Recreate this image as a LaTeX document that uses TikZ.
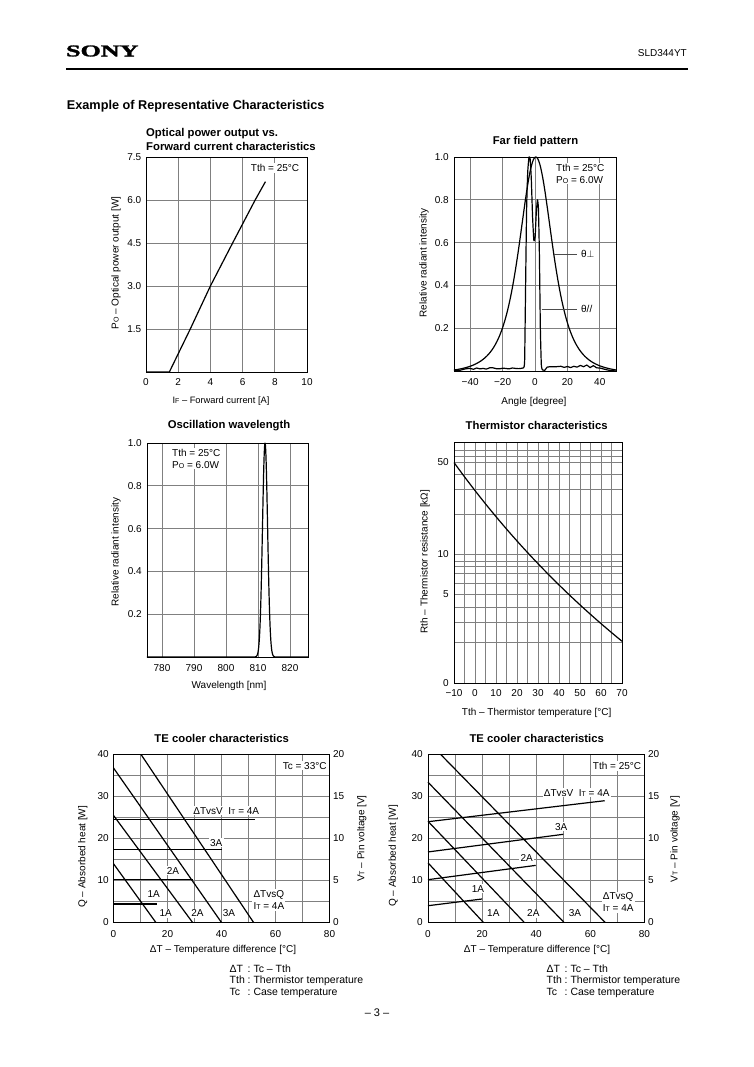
\documentclass[tikz,border=0pt]{standalone}
\usepackage{fontspec}
\setmainfont{Liberation Sans}
\newfontfamily\sonyfont{Liberation Serif}[BoldFeatures={FakeBold=1.6}]
\newcommand\ftick{\fontsize{10}{12}\selectfont}
\newcommand\faxis{\fontsize{10}{12}\selectfont}
\newcommand\fnote{\fontsize{10.5}{12}\selectfont}
\newcommand\ftitle{\fontsize{11.3}{13}\selectfont\bfseries}
\newcommand\subcap[1]{{\fontsize{7}{8}\selectfont #1}}
\begin{document}
\begin{tikzpicture}[x=1pt,y=-1pt,
  gridl/.style={draw=black!50, line width=0.7pt},
  frame/.style={draw=black, line width=0.9pt},
  curve/.style={draw=black, line width=1.2pt, line join=round},
  leader/.style={draw=black!70, line width=0.7pt},
  ticklab/.style={font=\ftick, inner sep=0pt},
  axlab/.style={font=\faxis, inner sep=0pt},
  notelab/.style={font=\fnote, inner sep=0pt, anchor=base west},
  ctitle/.style={font=\ftitle, inner sep=0pt},
  boxlab/.style={font=\fontsize{10}{12}\selectfont, fill=white, inner sep=1.2pt, align=left},
  plainlab/.style={font=\ftick, inner sep=0pt},
]
\useasboundingbox (0,0) rectangle (754,1067);
\fill[white] (0,0) rectangle (754,1067);

% ---------- header ----------
\node[font=\sonyfont\bfseries\fontsize{16.5}{17}\selectfont, xscale=1.58, inner sep=0pt] (logo) at (102.3,51) {SONY};
\node[font=\fontsize{10}{12}\selectfont, anchor=east, inner sep=0pt] (model) at (687,53) {SLD344YT};
\coordinate (rl) at (66,69);
\coordinate (rr) at (687.5,69);
\draw[line width=1.3pt] (rl) -- (rr);
\node[font=\fontsize{12.7}{14}\selectfont\bfseries, anchor=west, inner sep=0pt] (head) at (66.7,106) {Example of Representative Characteristics};

% ---------- Chart A: optical power ----------
\node[ctitle, anchor=west] (tA1) at (146,134) {Optical power output vs.};
\node[ctitle, anchor=west] (tA2) at (146,146.5) {Forward current characteristics};
\begin{scope}[shift={(146,372)}, x=16.1pt, y=28.667pt]
  \foreach \i in {2,4,6,8} \draw[gridl] (\i,0) -- (\i,7.5);
  \foreach \j in {1.5,3,4.5,6} \draw[gridl] (0,\j) -- (10,\j);
  \draw[frame] (0,0) rectangle (10,7.5);
  \draw[curve] (0,0) -- (1.45,0) -- (2.75,1.5) -- (4.0,3.0) -- (5.38,4.5) -- (6.78,6.0) -- (7.42,6.64);
  \foreach \j/\t [count=\k] in {1.5/1.5,3/3.0,4.5/4.5,6/6.0,7.5/7.5}
    \node[ticklab, anchor=east] (Ay\k) at ([xshift=-4.5pt]0,\j) {\t};
  \foreach \i [count=\k] in {0,2,4,6,8,10}
    \node[ticklab, anchor=north] (Ax\k) at ([yshift=-6.5pt]\i,0) {\i};
\end{scope}
\node[axlab, rotate=90] (yA) at (116,263) {P\subcap{O} – Optical power output [W]};
\node[axlab, font=\fontsize{9.3}{11}\selectfont] (xA) at (221,400.7) {I\subcap{F} – Forward current [A]};
\node[boxlab, anchor=east] (lA) at (300.5,168.3) {Tth = 25°C};

% ---------- Chart B: far field ----------
\node[ctitle] (tB) at (535.5,141.7) {Far field pattern};
\begin{scope}[shift={(535,371)}, x=1.62pt, y=214pt]
  \foreach \i in {-40,-20,0,20,40} \draw[gridl] (\i,0) -- (\i,1);
  \foreach \j in {0.2,0.4,0.6,0.8} \draw[gridl] (-50,\j) -- (50,\j);
  \draw[frame] (-50,0) rectangle (50,1);
  \draw[curve] plot[domain=-50:50, samples=201]
    (\x, {(1-(\x/55)*(\x/55)*(\x/55)*(\x/55))/((1+((\x-0.5)/18.7)*((\x-0.5)/18.7))*(1+((\x-0.5)/18.7)*((\x-0.5)/18.7)))});
  \draw[curve] plot[smooth, tension=0.3] coordinates {
    (-50,0) (-46,0.004) (-43,0.01) (-40,0.012) (-38,0.008) (-36,0.014) (-34,0.01) (-32,0.012)
    (-30,0.009) (-28,0.015) (-26,0.015) (-24,0.011) (-22,0.01) (-20,0.013) (-18,0.012) (-16,0.01)
    (-14,0.014) (-12,0.012) (-10,0.011) (-8,0.013) (-7,0.015) (-6.4,0.05) (-5.8,0.4) (-5.2,0.75)
    (-4.5,0.93) (-3.7,1.0) (-3.0,0.99) (-2.3,0.9) (-1.5,0.72) (-0.7,0.61) (0.1,0.63) (0.8,0.74)
    (1.5,0.8) (2.1,0.76) (2.7,0.55) (3.3,0.2) (3.9,0.03) (4.6,0.005) (6,0.003) (7.5,0.018)
    (10,0.02) (13,0.02) (16,0.022) (18,0.017) (20,0.021) (22,0.016) (24,0.022) (26,0.018)
    (28,0.026) (30,0.02) (32,0.028) (34,0.016) (36,0.025) (38,0.015) (40,0.014) (43,0.008)
    (46,0.003) (50,0)};
  \coordinate (pa1) at (11.7,0.547);
  \coordinate (pa2) at (25.9,0.547);
  \coordinate (pb1) at (4.1,0.288);
  \coordinate (pb2) at (25.9,0.288);
  \draw[leader] (pa1) -- (pa2);
  \draw[leader] (pb1) -- (pb2);
  \node[plainlab, anchor=west] (thp) at ([xshift=4pt]pa2) {θ$\perp$};
  \node[plainlab, anchor=west] (thl) at ([xshift=4pt]pb2) {θ//};
  \foreach \j/\t [count=\k] in {0.2/0.2,0.4/0.4,0.6/0.6,0.8/0.8,1/1.0}
    \node[ticklab, anchor=east] (By\k) at ([xshift=-5pt]-50,\j) {\t};
  \foreach \i/\t [count=\k] in {-40/−40,-20/−20,0/0,20/20,40/40}
    \node[ticklab, anchor=north] (Bx\k) at ([yshift=-7pt]\i,0) {\t};
\end{scope}
\node[axlab, rotate=90] (yB) at (424,263) {Relative radiant intensity};
\node[axlab] (xB) at (534,402) {Angle [degree]};
\node[boxlab, anchor=north west] (lB) at (554.8,162.5) {Tth = 25°C\\P\subcap{O} = 6.0W};

% ---------- Chart C: oscillation wavelength ----------
\node[ctitle] (tC) at (229,426) {Oscillation wavelength};
\begin{scope}[shift={(162,657)}, x=3.2pt, y=214pt]
  \foreach \i in {0,10,20,30,40} \draw[gridl] (\i,0) -- (\i,1);
  \foreach \j in {0.2,0.4,0.6,0.8} \draw[gridl] (-4.69,\j) -- (45.63,\j);
  \draw[frame] (-4.69,0) rectangle (45.63,1);
  \draw[curve] (-4.69,0) -- (28.6,0) -- plot[domain=28.6:35.8, samples=90] (\x,{exp(-(\x-32.2)*(\x-32.2)/1.28)}) -- (45.63,0);
  \foreach \j/\t [count=\k] in {0.2/0.2,0.4/0.4,0.6/0.6,0.8/0.8,1/1.0}
    \node[ticklab, anchor=east] (Cy\k) at ([xshift=-5pt]-4.69,\j) {\t};
  \foreach \i/\t [count=\k] in {0/780,10/790,20/800,30/810,40/820}
    \node[ticklab, anchor=north] (Cx\k) at ([yshift=-7.3pt]\i,0) {\t};
\end{scope}
\node[axlab, rotate=90] (yC) at (116,552) {Relative radiant intensity};
\node[axlab] (xC) at (229,686) {Wavelength [nm]};
\node[boxlab, anchor=north west] (lC) at (170.8,447.5) {Tth = 25°C\\P\subcap{O} = 6.0W};

% ---------- Chart D: thermistor ----------
\node[ctitle] (tD) at (536.7,425) {Thermistor characteristics};
\foreach \t in {-5,0,...,65} \draw[gridl] ({454+2.1*(\t+10)},442) -- ({454+2.1*(\t+10)},683);
\foreach \yy in {450,456,462.3,474.3,489.3,514,554.3,561,566,573.3,583.3,594.3,607.3,622.7,642.7}
  \draw[gridl] (454,\yy) -- (622,\yy);
\draw[frame] (454,442) rectangle (622,683);
\draw[curve] plot[domain=-10:70, samples=81]
  ({454+2.1*(\x+10)}, {462.3+129.05*(0.69897-5.244*(25-\x)/(\x+273.15))});
\foreach \yy/\t [count=\k] in {462.3/50,554.3/10,594.3/5,683/0}
  \node[ticklab, anchor=east] (Dy\k) at (449,\yy) {\t};
\foreach \t/\l [count=\k] in {-10/−10,0/0,10/10,20/20,30/30,40/40,50/50,60/60,70/70}
  \node[ticklab, anchor=north] (Dx\k) at ({454+2.1*(\t+10)},689.5) {\l};
\node[axlab, rotate=90] (yD) at (425,561.7) {Rth – Thermistor resistance [kΩ]};
\node[axlab] (xD) at (536.7,712.7) {Tth – Thermistor temperature [°C]};

% ---------- Chart E: TE cooler (Tc = 33) ----------
\node[ctitle] (tE) at (221.7,738.3) {TE cooler characteristics};
\begin{scope}[shift={(113.5,922.5)}, x=2.7pt, y=4.2pt]
  \foreach \i in {10,20,...,70} \draw[gridl] (\i,0) -- (\i,40);
  \foreach \j in {5,10,...,35} \draw[gridl] (0,\j) -- (80,\j);
  \draw[frame] (0,0) rectangle (80,40);
  \draw[curve] (0,14) -- (15.7,0);
  \draw[curve] (0,25.5) -- (29.3,0);
  \draw[curve] (0,36.8) -- (40,0);
  \draw[curve] (10.2,40) -- (51.9,0);
  \draw[curve] (0,24.5) -- (52.5,24.5);
  \draw[curve] (0,17.4) -- (40,17.4);
  \draw[curve] (0,10.3) -- (29.4,10.3);
  \draw[curve] (0,4.4) -- (16,4.4);
  \foreach \j [count=\k] in {0,10,20,30,40}
    \node[ticklab, anchor=east] (Ey\k) at ([xshift=-4.5pt]0,\j) {\j};
  \foreach \j/\t [count=\k] in {0/0,10/5,20/10,30/15,40/20}
    \node[ticklab, anchor=west] (Ev\k) at ([xshift=3.3pt]80,\j) {\t};
  \foreach \i [count=\k] in {0,20,40,60,80}
    \node[ticklab, anchor=north] (Ex\k) at ([yshift=-7.5pt]\i,0) {\i};
\end{scope}
\node[boxlab] (lE0) at (304.7,765.7) {Tc = 33°C};
\node[boxlab] (lE1) at (226.3,810.7) {ΔTvsV~~I\subcap{T} = 4A};
\node[boxlab] (lE2) at (216.3,842.7) {3A};
\node[boxlab] (lE3) at (173,870.7) {2A};
\node[boxlab] (lE4) at (153.7,894.3) {1A};
\node[boxlab] (lE5) at (165.8,913.3) {1A};
\node[boxlab] (lE6) at (197.5,913.3) {2A};
\node[boxlab] (lE7) at (229,913.3) {3A};
\node[boxlab, anchor=north west] (lE8) at (252.1,889) {ΔTvsQ\\I\subcap{T} = 4A};
\node[axlab, rotate=90] (yE) at (82.7,856.7) {Q – Absorbed heat [W]};
\node[axlab, rotate=90] (vE) at (361.7,838.5) {V\subcap{T} – Pin voltage [V]};
\node[axlab] (xE) at (223,950) {ΔT – Temperature difference [°C]};
\node[notelab] (nE1) at (229.5,972.2) {ΔT};
\node[notelab] (nE2) at (229.5,983.7) {Tth};
\node[notelab] (nE3) at (229.5,995.2) {Tc};
\node[notelab] (nE4) at (247.5,972.2) {:\ Tc – Tth};
\node[notelab] (nE5) at (247.5,983.7) {:\ Thermistor temperature};
\node[notelab] (nE6) at (247.5,995.2) {:\ Case temperature};

% ---------- Chart F: TE cooler (Tth = 25) ----------
\node[ctitle] (tF) at (536.7,738.3) {TE cooler characteristics};
\begin{scope}[shift={(428,922.5)}, x=2.706pt, y=4.2pt]
  \foreach \i in {10,20,...,70} \draw[gridl] (\i,0) -- (\i,40);
  \foreach \j in {5,10,...,35} \draw[gridl] (0,\j) -- (80,\j);
  \draw[frame] (0,0) rectangle (80,40);
  \draw[curve] (0,14.2) -- (20.5,0);
  \draw[curve] (0,24.1) -- (35.6,0);
  \draw[curve] (0,33.4) -- (50.3,0);
  \draw[curve] (4.7,40) -- (65.5,0);
  \draw[curve] (0,24.0) -- (65.3,29.0);
  \draw[curve] (0,16.8) -- (50,21.0);
  \draw[curve] (0,10.2) -- (39.8,13.6);
  \draw[curve] (0,4.0) -- (20,5.6);
  \foreach \j [count=\k] in {0,10,20,30,40}
    \node[ticklab, anchor=east] (Fy\k) at ([xshift=-5pt]0,\j) {\j};
  \foreach \j/\t [count=\k] in {0/0,10/5,20/10,30/15,40/20}
    \node[ticklab, anchor=west] (Fv\k) at ([xshift=3.5pt]80,\j) {\t};
  \foreach \i [count=\k] in {0,20,40,60,80}
    \node[ticklab, anchor=north] (Fx\k) at ([yshift=-7.5pt]\i,0) {\i};
\end{scope}
\node[boxlab] (lF0) at (617,766) {Tth = 25°C};
\node[boxlab] (lF1) at (576.7,792.7) {ΔTvsV~~I\subcap{T} = 4A};
\node[boxlab] (lF2) at (561.2,826.7) {3A};
\node[boxlab] (lF3) at (526.7,857.7) {2A};
\node[boxlab] (lF4) at (478,888.7) {1A};
\node[boxlab] (lF5) at (493.3,913.3) {1A};
\node[boxlab] (lF6) at (533.3,913.3) {2A};
\node[boxlab] (lF7) at (575,913.3) {3A};
\node[boxlab, anchor=north west] (lF8) at (601.5,891.5) {ΔTvsQ\\I\subcap{T} = 4A};
\node[axlab, rotate=90] (yF) at (393.3,856) {Q – Absorbed heat [W]};
\node[axlab, rotate=90] (vF) at (675,839) {V\subcap{T} – Pin voltage [V]};
\node[axlab] (xF) at (537,950) {ΔT – Temperature difference [°C]};
\node[notelab] (nF1) at (546.5,972.2) {ΔT};
\node[notelab] (nF2) at (546.5,983.7) {Tth};
\node[notelab] (nF3) at (546.5,995.2) {Tc};
\node[notelab] (nF4) at (564.5,972.2) {:\ Tc – Tth};
\node[notelab] (nF5) at (564.5,983.7) {:\ Thermistor temperature};
\node[notelab] (nF6) at (564.5,995.2) {:\ Case temperature};

% ---------- page number ----------
\node[font=\fontsize{11}{13}\selectfont, inner sep=0pt] (pg) at (377,1013) {– 3 –};
\end{tikzpicture}
\end{document}
